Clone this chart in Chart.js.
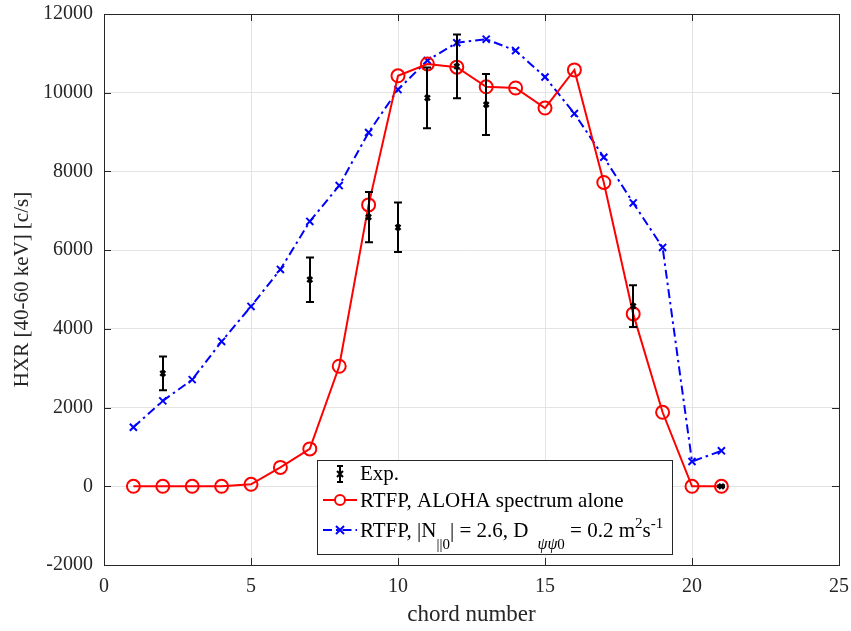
<!DOCTYPE html>
<html>
<head>
<meta charset="utf-8">
<script src="https://cdn.jsdelivr.net/npm/chart.js@4.4.1/dist/chart.umd.min.js"></script>
<style>
    body { margin: 0; background: #fff; }
    #wrap { width: 851px; height: 631px; }
</style>
</head>
<body>
<div id="wrap"><canvas id="hxrChart" width="851" height="631"></canvas></div>
<script>
// chord numbers
const chords = [1, 2, 3, 4, 5, 6, 7, 8, 9, 10, 11, 12, 13, 14, 15, 16, 17, 18, 19, 20, 21];
// RTFP, ALOHA spectrum alone
const alohaValues = [0, 0, 0, 0, 50, 480, 950, 3050, 7150, 10430, 10730, 10650, 10150, 10120, 9610, 10580, 7720, 4380, 1880, 0, 0];
// RTFP, |N||0| = 2.6, D = 0.2
const rtfpValues = [1500, 2170, 2710, 3680, 4570, 5510, 6730, 7640, 8990, 10080, 10820, 11270, 11360, 11070, 10400, 9470, 8360, 7200, 6070, 630, 900];
// experiment
const expChords = [2, 7, 9, 10, 11, 12, 13, 18, 21];
const expValues = [2870, 5250, 6840, 6580, 9870, 10670, 9700, 4580, 0];
const expErrors = [430, 565, 640, 630, 770, 810, 775, 530, 20];

const xTicks = [0, 5, 10, 15, 20, 25];
const yTicks = [-2000, 0, 2000, 4000, 6000, 8000, 10000, 12000];

const serif = "'Liberation Serif', 'DejaVu Serif', serif";

const toPoints = (xs, ys) => xs.map((x, i) => ({x: x, y: ys[i]}));

// error bars + box with inward ticks
const matlabAxes = {
    id: 'matlabAxes',
    afterDatasetsDraw(chart) {
        const ctx = chart.ctx;
        const sx = chart.scales.x, sy = chart.scales.y;
        ctx.save();
        ctx.strokeStyle = '#000';
        ctx.lineWidth = 2;
        expChords.forEach((c, i) => {
            const px = Math.round(sx.getPixelForValue(c));
            const top = sy.getPixelForValue(expValues[i] + expErrors[i]);
            const bot = sy.getPixelForValue(expValues[i] - expErrors[i]);
            ctx.beginPath();
            ctx.moveTo(px, top); ctx.lineTo(px, bot);
            ctx.moveTo(px - 4, top); ctx.lineTo(px + 4, top);
            ctx.moveTo(px - 4, bot); ctx.lineTo(px + 4, bot);
            ctx.stroke();
        });
        ctx.restore();
    },
    afterDraw(chart) {
        const ctx = chart.ctx;
        const a = chart.chartArea;
        const sx = chart.scales.x, sy = chart.scales.y;
        ctx.save();
        ctx.strokeStyle = '#262626';
        ctx.lineWidth = 1;
        ctx.beginPath();
        xTicks.forEach(v => {
            const px = Math.round(sx.getPixelForValue(v)) + 0.5;
            ctx.moveTo(px, a.bottom); ctx.lineTo(px, a.bottom - 7);
            ctx.moveTo(px, a.top); ctx.lineTo(px, a.top + 7);
        });
        yTicks.forEach(v => {
            const py = Math.round(sy.getPixelForValue(v)) + 0.5;
            ctx.moveTo(a.left, py); ctx.lineTo(a.left + 7, py);
            ctx.moveTo(a.right, py); ctx.lineTo(a.right - 7, py);
        });
        ctx.stroke();
        ctx.strokeRect(Math.round(a.left) + 0.5, Math.round(a.top) + 0.5,
            Math.round(a.right - a.left), Math.round(a.bottom - a.top));
        ctx.restore();

        drawLegend(ctx);
    }
};

function drawLegend(ctx) {
    const L = 317, T = 460, W = 355, H = 94;
    ctx.save();
    ctx.fillStyle = '#fff';
    ctx.fillRect(L, T, W, H);
    ctx.strokeStyle = '#262626';
    ctx.lineWidth = 1;
    ctx.strokeRect(L + 0.5, T + 0.5, W, H);

    const mx = 340, tx = 360;
    const rows = [474, 500, 530];

    // Exp.
    ctx.strokeStyle = '#000';
    ctx.lineWidth = 2;
    ctx.beginPath();
    ctx.moveTo(mx, rows[0] - 8); ctx.lineTo(mx, rows[0] + 8);
    ctx.moveTo(mx - 3, rows[0] - 8); ctx.lineTo(mx + 3, rows[0] - 8);
    ctx.moveTo(mx - 3, rows[0] + 8); ctx.lineTo(mx + 3, rows[0] + 8);
    ctx.moveTo(mx - 3, rows[0] - 3); ctx.lineTo(mx + 3, rows[0] + 3);
    ctx.moveTo(mx - 3, rows[0] + 3); ctx.lineTo(mx + 3, rows[0] - 3);
    ctx.stroke();

    // red
    ctx.strokeStyle = '#ff0000';
    ctx.beginPath();
    ctx.moveTo(323, rows[1]); ctx.lineTo(357, rows[1]);
    ctx.stroke();
    ctx.fillStyle = '#fff';
    ctx.beginPath();
    ctx.arc(mx, rows[1], 5, 0, Math.PI * 2);
    ctx.fill();
    ctx.stroke();

    // blue
    ctx.strokeStyle = '#0000ff';
    ctx.setLineDash([9, 4, 2.5, 4]);
    ctx.beginPath();
    ctx.moveTo(323, rows[2]); ctx.lineTo(357, rows[2]);
    ctx.stroke();
    ctx.setLineDash([]);
    ctx.beginPath();
    ctx.moveTo(mx - 4, rows[2] - 4); ctx.lineTo(mx + 4, rows[2] + 4);
    ctx.moveTo(mx - 4, rows[2] + 4); ctx.lineTo(mx + 4, rows[2] - 4);
    ctx.stroke();

    ctx.fillStyle = '#000';
    ctx.textBaseline = 'alphabetic';
    ctx.textAlign = 'left';
    const big = '21px ' + serif, small = '15px ' + serif, smallIt = 'italic 16px ' + serif;
    ctx.font = big;
    ctx.fillText('Exp.', tx, rows[0] + 6);
    ctx.fillText('RTFP, ALOHA spectrum alone', tx, rows[1] + 7);

    // RTFP, |N_||0| = 2.6, D_ψψ0 = 0.2 m^2 s^-1
    const parts = [
        ['RTFP, |N', big, 0, 0],
        ['||0', small, 12, 0],
        ['| = 2.6, D', big, 0, 9],
        ['ψψ', smallIt, 12, 0],
        ['0', small, 12, 0],
        [' = 0.2 m', big, 0, 0],
        ['2', small, -9, 0],
        ['s', big, 0, 0],
        ['-1', small, -9, 0]
    ];
    let x = tx;
    const base = rows[2] + 7;
    parts.forEach(p => {
        ctx.font = p[1];
        ctx.fillText(p[0], x, base + p[2]);
        x += ctx.measureText(p[0]).width + p[3];
    });
    ctx.restore();
}

new Chart(document.getElementById('hxrChart').getContext('2d'), {
    type: 'line',
    data: {
        datasets: [
            {
                label: 'Exp.',
                data: toPoints(expChords, expValues),
                showLine: false,
                pointStyle: 'crossRot',
                pointRadius: 3.5,
                pointBorderWidth: 2.5,
                borderColor: '#000',
                backgroundColor: '#000',
                order: 0
            },
            {
                label: 'RTFP, ALOHA spectrum alone',
                data: toPoints(chords, alohaValues),
                borderColor: '#ff0000',
                borderWidth: 2,
                pointStyle: 'circle',
                pointRadius: 6.5,
                pointBorderWidth: 2,
                pointBackgroundColor: 'rgba(0,0,0,0)',
                pointBorderColor: '#ff0000',
                tension: 0,
                order: 1
            },
            {
                label: 'RTFP, |N||0| = 2.6, Dψψ0 = 0.2 m2s-1',
                data: toPoints(chords, rtfpValues),
                borderColor: '#0000ff',
                borderWidth: 2,
                borderDash: [9, 4, 2.5, 4],
                pointStyle: 'crossRot',
                pointRadius: 5,
                pointBorderWidth: 2,
                pointBorderColor: '#0000ff',
                tension: 0,
                order: 2
            }
        ]
    },
    options: {
        responsive: false,
        animation: false,
        layout: {padding: {left: 0, right: 12, top: 14, bottom: 0}},
        plugins: {legend: {display: false}, tooltip: {enabled: false}},
        scales: {
            x: {
                type: 'linear',
                min: 0, max: 25,
                afterFit: s => { s.height = 66; s.paddingLeft = 0; s.paddingRight = 0; },
                afterBuildTicks: s => { s.ticks = xTicks.map(v => ({value: v})); },
                grid: {color: '#e3e3e3', drawTicks: false},
                border: {display: false},
                ticks: {font: {family: serif, size: 20}, color: '#262626', padding: 10, maxRotation: 0},
                title: {display: true, text: 'chord number', font: {family: serif, size: 23}, color: '#262626', padding: {top: 0, bottom: 2}}
            },
            y: {
                type: 'linear',
                min: -2000, max: 12000,
                afterFit: s => { s.width = 104; s.paddingTop = 0; s.paddingBottom = 0; },
                afterBuildTicks: s => { s.ticks = yTicks.map(v => ({value: v})); },
                grid: {color: '#e3e3e3', drawTicks: false},
                border: {display: false},
                ticks: {font: {family: serif, size: 20}, color: '#262626', padding: 11, callback: v => String(v)},
                title: {display: true, text: 'HXR [40-60 keV] [c/s]', font: {family: serif, size: 21}, color: '#262626', padding: {top: 10, bottom: 0}}
            }
        }
    },
    plugins: [matlabAxes]
});
</script>
</body>
</html>
